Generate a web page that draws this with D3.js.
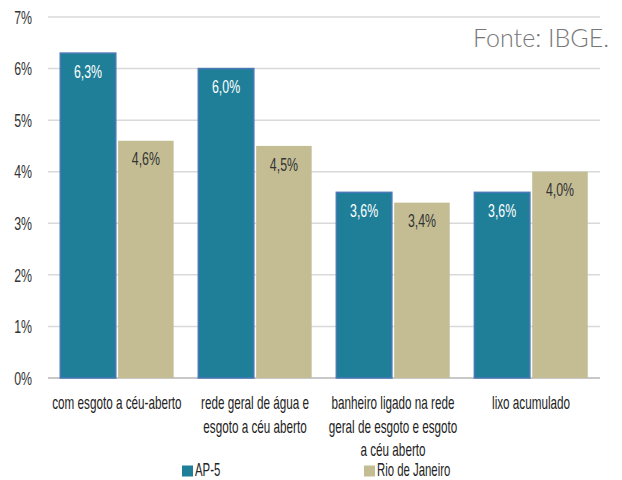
<!DOCTYPE html>
<html>
<head>
<meta charset="utf-8">
<script src="https://cdn.jsdelivr.net/npm/d3@7"></script>
<style>
  body { margin: 0; background: #fff; }
  text { font-family: "Liberation Sans", Arial, sans-serif; }
</style>
</head>
<body>
<div id="chart"></div>
<script>
const categories = [
  ["com esgoto a céu-aberto"],
  ["rede geral de água e", "esgoto a céu aberto"],
  ["banheiro ligado na rede", "geral de esgoto e esgoto", "a céu aberto"],
  ["lixo acumulado"],
];
const seriesNames = ["AP-5", "Rio de Janeiro"];
const ap5 = [6.3, 6.0, 3.6, 3.6];
const rio = [4.6, 4.5, 3.4, 4.0];
const yTicks = [0, 1, 2, 3, 4, 5, 6, 7];
const colors = ["#1f7f99", "#c4bd94"];

const W = 622, H = 480;
const margin = { top: 17, right: 22, bottom: 102, left: 48 };
const width = W - margin.left - margin.right;
const height = H - margin.top - margin.bottom;
const squeeze = 0.65;

const svg = d3.select("#chart").append("svg")
  .attr("width", W).attr("height", H);
const g = svg.append("g").attr("transform", `translate(${margin.left},${margin.top})`);

const x0 = d3.scaleBand().domain(d3.range(categories.length)).range([0, width])
  .paddingInner(0.145).paddingOuter(0.072);
const x1 = d3.scaleBand().domain(seriesNames).range([0, x0.bandwidth()]).padding(0.04);
const y = d3.scaleLinear().domain([0, 7]).range([height, 0]);

// condensed text helper
function label(parent, x, yy, size, txt) {
  return parent.append("text")
    .attr("transform", `translate(${x},${yy}) scale(${squeeze},1)`)
    .attr("font-size", size).attr("fill", "#333")
    .text(txt);
}

// gridlines
g.selectAll(".grid").data(yTicks.filter(t => t > 0)).enter().append("line")
  .attr("x1", 0).attr("x2", width)
  .attr("y1", d => y(d)).attr("y2", d => y(d))
  .attr("stroke", "#d9d9d9").attr("stroke-width", 1.5);
g.append("line").attr("x1", 0).attr("x2", width)
  .attr("y1", y(0)).attr("y2", y(0))
  .attr("stroke", "#c8c8c8").attr("stroke-width", 2);

// y axis labels
yTicks.forEach(t => {
  label(g, -16, y(t), 19, t + "%")
    .attr("dy", "0.35em").attr("text-anchor", "end");
});

const data = categories.map((c, i) => ({ i, values: [ap5[i], rio[i]] }));

const groups = g.selectAll(".grp").data(data).enter().append("g")
  .attr("transform", d => `translate(${x0(d.i)},0)`);

groups.selectAll("rect").data(d => d.values.map((v, k) => ({ v, k }))).enter().append("rect")
  .attr("x", d => x1(seriesNames[d.k]))
  .attr("y", d => y(d.v))
  .attr("width", x1.bandwidth())
  .attr("height", d => y(0) - y(d.v))
  .attr("fill", d => colors[d.k])
  .attr("stroke", d => d.k === 0 ? "#4a78b8" : "none")
  .attr("stroke-width", 1.5);

groups.each(function(d) {
  const grp = d3.select(this);
  d.values.forEach((v, k) => {
    label(grp, x1(seriesNames[k]) + x1.bandwidth() / 2, y(v) + 18, 19,
      v.toFixed(1).replace(".", ",") + "%")
      .attr("dy", "0.35em").attr("text-anchor", "middle")
      .attr("fill", k === 0 ? "#ffffff" : "#333");
  });
  // x labels
  const t = label(grp, x0.bandwidth() / 2, height + 25, 18, null)
    .attr("text-anchor", "middle").attr("fill", "#222");
  categories[d.i].forEach((line, j) => {
    t.append("tspan").attr("x", 0).attr("y", j * 23.5).attr("dy", "0.35em").text(line);
  });
});

// legend
const legendX = [182, 364];
seriesNames.forEach((name, k) => {
  svg.append("rect").attr("x", legendX[k]).attr("y", 465.5)
    .attr("width", 11).attr("height", 11).attr("fill", colors[k]);
  label(svg, legendX[k] + 13, 470.5, 17.5, name)
    .attr("dy", "0.33em").attr("fill", "#222");
});

// source
svg.append("text").attr("x", 609).attr("y", 47)
  .attr("text-anchor", "end").attr("font-size", 25).attr("fill", "#777")
  .style("font-family", "Lato, 'Open Sans', sans-serif").attr("font-weight", 300)
  .text("Fonte: IBGE.");
</script>
</body>
</html>
